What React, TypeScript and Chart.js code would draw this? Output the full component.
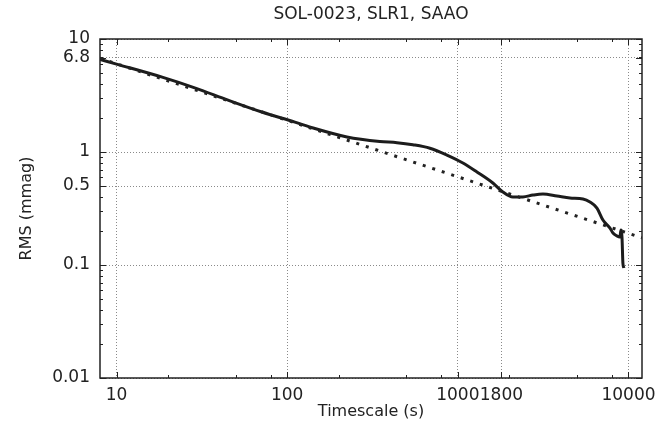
import React, { useEffect, useRef } from "react";
import { Chart, registerables } from "chart.js";

Chart.register(...registerables);

// Measured RMS vs timescale (solid curve)
const timescale = [
  8.0, 10, 18.5, 29, 45, 71, 111, 142, 224, 349, 440, 545, 686, 863, 1071, 1294,
  1604, 1836, 2100, 2405, 2754, 3153, 3810, 4540, 5410, 5945, 6535, 7085,
  7790, 8110, 8550, 8910, 9030, 9160, 9275, 9400,
];
const rms = [
  6.6, 6.0, 4.6, 3.68, 2.88, 2.26, 1.84, 1.63, 1.36, 1.24, 1.21, 1.16, 1.08, 0.94,
  0.8, 0.666, 0.532, 0.443, 0.4, 0.4, 0.416, 0.425, 0.408, 0.392, 0.384, 0.361,
  0.319, 0.25, 0.212, 0.192, 0.181, 0.177, 0.204, 0.177, 0.104, 0.094,
];

// White-noise reference line (dotted), end points
const noiseX = [8, 12000];
const noiseY = [6.75, 0.174];

const xMajorTicks = [10, 100, 1000, 1800, 10000];
const yMajorTicks = [0.01, 0.1, 0.5, 1, 6.8, 10];
const xMinorTicks = [20, 50, 80, 200, 500, 800, 2000, 5000, 8000];
const yMinorTicks = [
  0.02, 0.03, 0.04, 0.05, 0.06, 0.07, 0.08, 0.09, 0.2, 0.3, 0.4, 0.6, 0.7, 0.8,
  0.9, 2, 3, 4, 5, 6, 7, 8, 9,
];

const titleText = "SOL-0023, SLR1, SAAO";
const xTitle = "Timescale (s)";
const yTitle = "RMS (mmag)";

const FONT = "'DejaVu Sans', Verdana, sans-serif";
const INK = "#222222";

const framePlugin = {
  id: "gnuFrame",
  afterDatasetsDraw(chart: any) {
    const { ctx, chartArea, scales } = chart;
    const { left, right, top, bottom } = chartArea;
    const xs = scales.x;
    const ys = scales.y;
    ctx.save();
    ctx.strokeStyle = INK;
    ctx.lineWidth = 1;
    const tick = (len: number, vals: number[], horiz: boolean) => {
      ctx.beginPath();
      for (const v of vals) {
        if (horiz) {
          const p = Math.round(xs.getPixelForValue(v)) + 0.5;
          ctx.moveTo(p, bottom);
          ctx.lineTo(p, bottom - len);
          ctx.moveTo(p, top);
          ctx.lineTo(p, top + len);
        } else {
          const p = Math.round(ys.getPixelForValue(v)) + 0.5;
          ctx.moveTo(left, p);
          ctx.lineTo(left + len, p);
          ctx.moveTo(right, p);
          ctx.lineTo(right - len, p);
        }
      }
      ctx.stroke();
    };
    tick(6, xMajorTicks, true);
    tick(3, xMinorTicks, true);
    tick(6, yMajorTicks, false);
    tick(3, yMinorTicks, false);
    ctx.lineWidth = 1.5;
    ctx.strokeRect(left, top, right - left, bottom - top);
    // title
    ctx.fillStyle = INK;
    ctx.font = `17px ${FONT}`;
    ctx.textAlign = "center";
    ctx.textBaseline = "middle";
    ctx.fillText(titleText, (left + right) / 2, 15);
    ctx.restore();
  },
};

export default function App() {
  const ref = useRef<HTMLCanvasElement | null>(null);

  useEffect(() => {
    if (!ref.current) return;
    const chart = new Chart(ref.current, {
      type: "line",
      data: {
        datasets: [
          {
            label: "noise",
            data: noiseX.map((x, i) => ({ x, y: noiseY[i] })),
            borderColor: INK,
            borderWidth: 3,
            borderDash: [3, 7],
            pointRadius: 0,
            fill: false,
          },
          {
            label: "rms",
            data: timescale.map((x, i) => ({ x, y: rms[i] })),
            borderColor: "#1c1c1c",
            borderWidth: 3,
            pointRadius: 0,
            cubicInterpolationMode: "monotone",
            fill: false,
          },
        ],
      },
      options: {
        animation: false,
        responsive: false,
        devicePixelRatio: 1,
        layout: { padding: { top: 39, right: 30, left: 0, bottom: 0 } },
        plugins: {
          legend: { display: false },
          tooltip: { enabled: false },
          title: { display: false },
        },
        scales: {
          x: {
            type: "logarithmic",
            min: 8,
            max: 12000,
            afterBuildTicks: (s: any) => {
              s.ticks = xMajorTicks.map((v) => ({ value: v }));
            },
            afterFit: (s: any) => {
              s.height = 53;
            },
            ticks: {
              autoSkip: false,
              maxRotation: 0,
              minRotation: 0,
              padding: 7,
              color: INK,
              font: { family: FONT, size: 17 },
              callback: (v: any) => String(v),
            },
            grid: {
              display: true,
              drawTicks: false,
              color: "#8a8a8a",
              lineWidth: 1,
            },
            border: { display: false, dash: [1, 2] },
            title: {
              display: true,
              text: xTitle,
              color: INK,
              font: { family: FONT, size: 16 },
              padding: { top: 0, bottom: 10 },
            },
          },
          y: {
            type: "logarithmic",
            min: 0.01,
            max: 10,
            afterBuildTicks: (s: any) => {
              s.ticks = yMajorTicks.map((v) => ({ value: v }));
            },
            afterFit: (s: any) => {
              s.width = 100;
            },
            ticks: {
              autoSkip: false,
              padding: 10,
              color: INK,
              font: { family: FONT, size: 17 },
              callback: (v: any) => String(v),
            },
            grid: {
              display: true,
              drawTicks: false,
              color: "#8a8a8a",
              lineWidth: 1,
            },
            border: { display: false, dash: [1, 2] },
            title: {
              display: true,
              text: yTitle,
              color: INK,
              font: { family: FONT, size: 16 },
              padding: { top: 17, bottom: 0 },
            },
          },
        },
      },
      plugins: [framePlugin],
    });
    return () => chart.destroy();
  }, []);

  return (
    <div style={{ position: "absolute", left: 0, top: 0, width: 672, height: 431 }}>
      <canvas ref={ref} width={672} height={431} />
    </div>
  );
}
